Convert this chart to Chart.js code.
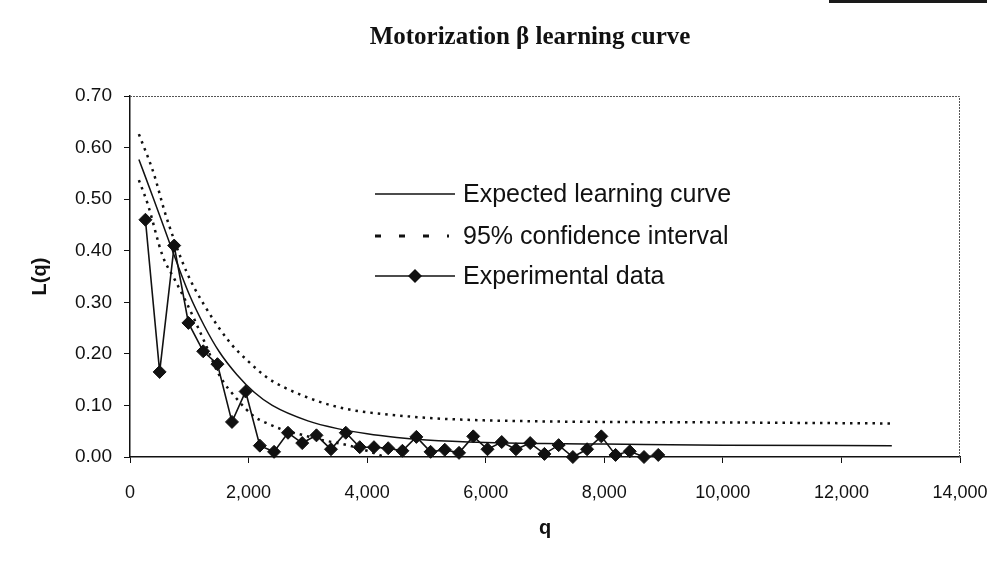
<!DOCTYPE html>
<html>
<head>
<meta charset="utf-8">
<script src="https://cdn.jsdelivr.net/npm/chart.js@4.4.1/dist/chart.umd.min.js"></script>
<style>
  html, body { margin: 0; padding: 0; background: #fff; }
  #wrap { position: relative; width: 987px; height: 564px; }
  #scanEdge { position: absolute; top: 0; right: 0; width: 158px; height: 3px; background: #1a1a1a; }
</style>
</head>
<body>
<div id="wrap">
  <canvas id="chart" width="987" height="564"></canvas>
  <div id="scanEdge"></div>
</div>
<script>
// ---------- Data ----------
const chartTitle = 'Motorization \u03B2 learning curve';
const xTitle = 'q';
const yTitle = 'L(q)';
const legendLabels = ['Expected learning curve', '95% confidence interval', 'Experimental data'];

// expected learning curve (solid)
const expectedQ = [150, 400, 700, 1000, 1250, 1500, 1800, 2100, 2400, 3000, 3500, 4000, 4500, 5000, 6000, 7000, 8000, 10000, 12850];
const expectedL = [0.577, 0.50, 0.405, 0.315, 0.255, 0.205, 0.16, 0.125, 0.10, 0.07, 0.055, 0.045, 0.038, 0.033, 0.028, 0.026, 0.025, 0.023, 0.022];

// 95% confidence interval, upper and lower bound (dotted)
const upperQ = [150, 400, 600, 950, 1250, 1700, 2000, 2300, 2600, 3200, 3700, 4300, 5000, 5700, 7000, 8000, 10000, 12850];
const upperL = [0.626, 0.55, 0.47, 0.36, 0.295, 0.22, 0.185, 0.155, 0.135, 0.107, 0.092, 0.083, 0.076, 0.072, 0.069, 0.068, 0.067, 0.065];
const lowerQ = [150, 300, 550, 750, 950, 1250, 1500, 1800, 2100, 2300, 2600, 2900, 3200, 3700, 4000, 4300];
const lowerL = [0.537, 0.49, 0.39, 0.345, 0.30, 0.225, 0.16, 0.113, 0.078, 0.066, 0.052, 0.043, 0.034, 0.022, 0.012, 0.0];

// experimental data (diamonds)
const dataQ = [260, 500, 745, 985, 1235, 1475, 1720, 1950, 2190, 2430, 2665, 2905, 3145, 3390, 3640, 3875, 4115, 4355, 4595, 4830,
  5070, 5310, 5550, 5790, 6030, 6270, 6510, 6750, 6990, 7230, 7470, 7710, 7950, 8190, 8430, 8670, 8910];
const dataL = [0.46, 0.165, 0.41, 0.26, 0.205, 0.18, 0.068, 0.127, 0.022, 0.01, 0.047, 0.027, 0.042, 0.015, 0.047, 0.019, 0.019, 0.017, 0.012, 0.039,
  0.01, 0.014, 0.008, 0.04, 0.015, 0.029, 0.015, 0.027, 0.006, 0.023, 0.0, 0.015, 0.04, 0.004, 0.011, 0.0, 0.004];

// ---------- Helpers ----------
const ink = '#111';
const sans = '"Liberation Sans", Arial, sans-serif';
const serif = '"Liberation Serif", "Times New Roman", serif';
const pts = (qs, ls) => qs.map((q, i) => ({ x: q, y: ls[i] }));

// title drawn by hand so it can sit over the plot like the original
const titlePlugin = {
  id: 'scanTitle',
  afterDraw(chart) {
    const ctx = chart.ctx;
    ctx.save();
    ctx.fillStyle = ink;
    ctx.font = 'bold 25px ' + serif;
    ctx.textAlign = 'center';
    ctx.textBaseline = 'middle';
    ctx.fillText(chartTitle, 530, 38);
    ctx.restore();
  }
};

// thin frame on top/right of plot
const framePlugin = {
  id: 'plotFrame',
  beforeDatasetsDraw(chart) {
    const { ctx, chartArea: a } = chart;
    ctx.save();
    ctx.strokeStyle = '#555';
    ctx.lineWidth = 1;
    ctx.setLineDash([2, 1]);
    ctx.beginPath();
    ctx.moveTo(a.left, a.top + 0.5);
    ctx.lineTo(a.right - 0.5, a.top + 0.5);
    ctx.lineTo(a.right - 0.5, a.bottom);
    ctx.stroke();
    ctx.restore();
  }
};

// legend inside the plot
const legendPlugin = {
  id: 'boxLegend',
  afterDraw(chart) {
    const ctx = chart.ctx;
    const rows = [194, 236, 276];
    const x0 = 375, x1 = 455, tx = 463;
    ctx.save();
    ctx.strokeStyle = ink;
    ctx.fillStyle = ink;
    ctx.font = '25px ' + sans;
    ctx.textBaseline = 'middle';
    ctx.textAlign = 'left';
    legendLabels.forEach((label, i) => {
      const y = rows[i];
      ctx.beginPath();
      if (i === 1) {
        ctx.lineWidth = 3;
        ctx.setLineDash([6, 18]);
      } else {
        ctx.lineWidth = 1.6;
        ctx.setLineDash([]);
      }
      ctx.moveTo(x0, y);
      ctx.lineTo(i === 1 ? x1 - 6 : x1, y);
      ctx.stroke();
      ctx.setLineDash([]);
      if (i === 2) {
        const cx = (x0 + x1) / 2, r = 7;
        ctx.beginPath();
        ctx.moveTo(cx, y - r);
        ctx.lineTo(cx + r, y);
        ctx.lineTo(cx, y + r);
        ctx.lineTo(cx - r, y);
        ctx.closePath();
        ctx.fill();
      }
      ctx.fillText(label, tx, y + 1);
    });
    ctx.restore();
  }
};

const dotted = {
  borderColor: ink,
  borderWidth: 2.5,
  borderDash: [2.5, 5],
  pointRadius: 0,
  fill: false,
  cubicInterpolationMode: 'monotone'
};

new Chart(document.getElementById('chart').getContext('2d'), {
  type: 'line',
  data: {
    datasets: [
      {
        label: legendLabels[0],
        data: pts(expectedQ, expectedL),
        borderColor: ink,
        borderWidth: 1.5,
        pointRadius: 0,
        fill: false,
        cubicInterpolationMode: 'monotone'
      },
      Object.assign({ label: legendLabels[1], data: pts(upperQ, upperL) }, dotted),
      Object.assign({ label: legendLabels[1] + ' (lower)', data: pts(lowerQ, lowerL) }, dotted),
      {
        label: legendLabels[2],
        data: pts(dataQ, dataL),
        borderColor: ink,
        borderWidth: 1.6,
        pointStyle: 'rectRot',
        pointRadius: 6.5,
        pointBackgroundColor: ink,
        pointBorderColor: ink,
        pointBorderWidth: 1,
        fill: false,
        tension: 0,
        clip: false
      }
    ]
  },
  options: {
    responsive: false,
    animation: false,
    devicePixelRatio: 1,
    layout: { padding: { top: 96, right: 27, left: 0, bottom: 0 } },
    plugins: {
      legend: { display: false },
      tooltip: { enabled: false },
      title: { display: false }
    },
    scales: {
      x: {
        type: 'linear',
        min: 0,
        max: 14000,
        afterFit: (s) => { s.height = 107; s.paddingRight = 0; s.paddingLeft = 0; },
        ticks: {
          stepSize: 2000,
          color: ink,
          padding: 19,
          maxRotation: 0,
          font: { family: sans, size: 18 },
          callback: (v) => Number(v).toLocaleString('en-US')
        },
        grid: { drawOnChartArea: false, drawTicks: true, tickLength: 6, color: ink },
        border: { color: ink, width: 1.5 },
        title: {
          display: true,
          text: xTitle,
          color: ink,
          font: { family: sans, size: 20, weight: 'bold' },
          padding: { top: 0, bottom: 24 }
        }
      },
      y: {
        min: 0,
        max: 0.7,
        afterFit: (s) => { s.width = 130; },
        ticks: {
          stepSize: 0.1,
          color: ink,
          padding: 12,
          font: { family: sans, size: 19 },
          callback: (v) => Number(v).toFixed(2)
        },
        grid: { drawOnChartArea: false, drawTicks: true, tickLength: 6, color: ink },
        border: { color: ink, width: 1.5 },
        title: {
          display: true,
          text: yTitle,
          color: ink,
          font: { family: sans, size: 20, weight: 'bold' },
          padding: { top: 28, bottom: 0 }
        }
      }
    }
  },
  plugins: [framePlugin, legendPlugin, titlePlugin]
});
</script>
</body>
</html>
